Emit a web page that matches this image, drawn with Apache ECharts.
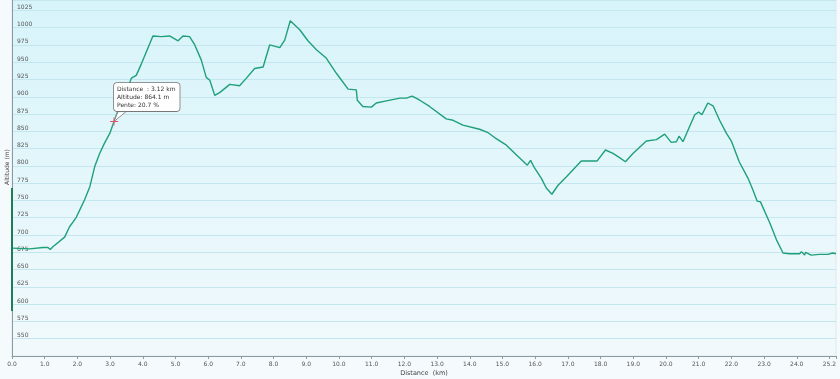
<!DOCTYPE html>
<html>
<head>
<meta charset="utf-8">
<script src="https://cdn.jsdelivr.net/npm/echarts@6/dist/echarts.min.js"></script>
<style>
html,body{margin:0;padding:0;background:#f5fafc;}
#chart{width:840px;height:379px;}
</style>
</head>
<body>
<div id="chart"></div>
<script>
const distances = [0, 0.54, 0.95, 1.1, 1.17, 1.25, 1.61, 1.76, 1.87, 1.97, 2.07, 2.22, 2.38, 2.53, 2.68, 2.83, 2.99, 3.12, 3.29, 3.5, 3.65, 3.8, 3.96, 4.11, 4.31, 4.57, 4.82, 5.08, 5.23, 5.43, 5.59, 5.79, 5.94, 6.05, 6.2, 6.35, 6.66, 6.96, 7.17, 7.42, 7.68, 7.88, 8.19, 8.34, 8.51, 8.8, 9.05, 9.31, 9.61, 9.92, 10.28, 10.53, 10.56, 10.73, 10.99, 11.14, 11.45, 11.86, 12.06, 12.24, 12.47, 12.77, 13.28, 13.49, 13.79, 14.3, 14.56, 14.76, 15.12, 15.47, 15.76, 15.86, 15.98, 16.19, 16.34, 16.51, 16.7, 16.95, 17.41, 17.67, 17.89, 18.15, 18.38, 18.58, 18.76, 18.99, 19.4, 19.71, 19.96, 20.16, 20.32, 20.4, 20.52, 20.88, 21.0, 21.1, 21.28, 21.44, 21.64, 21.85, 22.0, 22.24, 22.51, 22.66, 22.79, 22.89, 23.18, 23.38, 23.58, 23.78, 24.09, 24.14, 24.24, 24.27, 24.44, 24.69, 24.95, 25.1, 25.2];
const altitudes = [681, 680, 682, 682, 679, 683, 697, 712, 719, 726, 736, 751, 770, 799, 818, 833, 847, 864.1, 886, 907, 927, 931, 948, 965, 988, 987, 988, 981, 988, 987, 975, 953, 928, 924, 902, 906, 918, 916, 927, 941, 943, 975, 971, 982, 1010, 997, 981, 968, 956, 934, 911, 910, 895, 886, 885, 891, 894, 898, 898, 901, 895, 886, 868, 866, 859, 853, 848, 841, 830, 814, 801, 808, 797, 782, 768, 759, 772, 784, 807, 807, 807, 823, 818, 812, 806, 818, 836, 838, 846, 834, 835, 843, 835, 874, 878, 874, 891, 887, 866, 847, 836, 806, 782, 765, 749, 748, 717, 693, 674, 673, 673, 676, 671, 675, 671, 672, 672, 674, 673];
const rangeMarker = [590, 768];
const pointer = {distance: 3.12, altitude: 864.1, slope: 20.7};
const xTitle = 'Distance  (km)';
const yTitle = 'Altitude (m)';
const totalDistance = 25.2;

const lineData = distances.map((d, i) => [d, altitudes[i]]);
const font = 'DejaVu Sans, Verdana, sans-serif';

const chart = echarts.init(document.getElementById('chart'), null, {renderer: 'canvas'});
chart.setOption({
  animation: false,
  backgroundColor: '#f5fafc',
  grid: {
    left: 12, right: 4, top: 0, bottom: 23,
    containLabel: false,
    outerBoundsMode: 'none',
    show: true,
    borderWidth: 1,
    borderColor: '#dfe8ee',
    backgroundColor: {
      type: 'linear', x: 0, y: 0, x2: 0, y2: 1,
      colorStops: [{offset: 0, color: '#d7f4fa'}, {offset: 1, color: '#f1f9fc'}]
    }
  },
  xAxis: {
    type: 'value', min: 0, max: totalDistance, interval: 1,
    name: xTitle, nameLocation: 'middle', nameGap: 14,
    nameMoveOverlap: false,
    nameTextStyle: {fontFamily: font, fontSize: 6.5, color: '#444'},
    axisLine: {show: true, lineStyle: {color: '#8a9a9e', width: 1}},
    axisTick: {show: true, length: 3, lineStyle: {color: '#8a9a9e'}},
    axisLabel: {
      fontFamily: font, fontSize: 6, color: '#555', margin: 5,
      alignMaxLabel: 'right',
      formatter: v => (v === 25 ? '' : v.toFixed(1))
    },
    splitLine: {show: false}
  },
  yAxis: {
    type: 'value', min: 525, max: 1040, interval: 25,
    name: yTitle, nameLocation: 'middle', nameGap: 2, nameRotate: 90,
    nameMoveOverlap: false,
    nameTextStyle: {fontFamily: font, fontSize: 6, color: '#444', padding: [0, 0, 0, 22]},
    axisLine: {show: true, lineStyle: {color: '#8a9a9e', width: 1}},
    axisTick: {show: false},
    axisLabel: {
      inside: true, fontFamily: font, fontSize: 6, color: '#555', margin: 5,
      verticalAlign: 'bottom', showMinLabel: false, showMaxLabel: false,
      formatter: v => String(v)
    },
    splitLine: {show: true, lineStyle: {color: '#c3e6ef', width: 1}}
  },
  series: [
    {
      type: 'line',
      data: lineData,
      showSymbol: false,
      lineStyle: {color: '#1fa078', width: 1.4},
      z: 3,
      markPoint: {
        silent: true,
        data: [
          {
            coord: [pointer.distance, pointer.altitude],
            symbol: 'path://M0,10 L4,0 L12,0 Z',
            symbolSize: [12, 10],
            symbolKeepAspect: false,
            symbolOffset: [6, -5],
            itemStyle: {color: '#ffffff', borderColor: '#777', borderWidth: 0.8},
            label: {show: false}
          },
          {
            coord: [pointer.distance, pointer.altitude],
            symbol: 'path://M4.4,0H5.6V4.4H10V5.6H5.6V10H4.4V5.6H0V4.4H4.4Z',
            symbolSize: 8,
            itemStyle: {color: '#e2556a'},
            label: {
              show: true,
              position: [4, -6.5],
              align: 'left', verticalAlign: 'bottom',
              formatter: 'Distance  : ' + pointer.distance.toFixed(2) + ' km\nAltitude: ' + pointer.altitude.toFixed(1) + ' m\nPente: ' + pointer.slope.toFixed(1) + ' %',
              fontFamily: font, fontSize: 6, color: '#333', lineHeight: 8,
              backgroundColor: '#ffffff', borderColor: '#777', borderWidth: 0.8,
              borderRadius: 3, padding: [2, 4, 2, 3]
            }
          }
        ]
      }
    },
    {
      type: 'line',
      data: rangeMarker.map(v => [0, v]),
      showSymbol: false,
      lineStyle: {color: '#1f7d55', width: 2},
      z: 4
    }
  ]
});
</script>
</body>
</html>
